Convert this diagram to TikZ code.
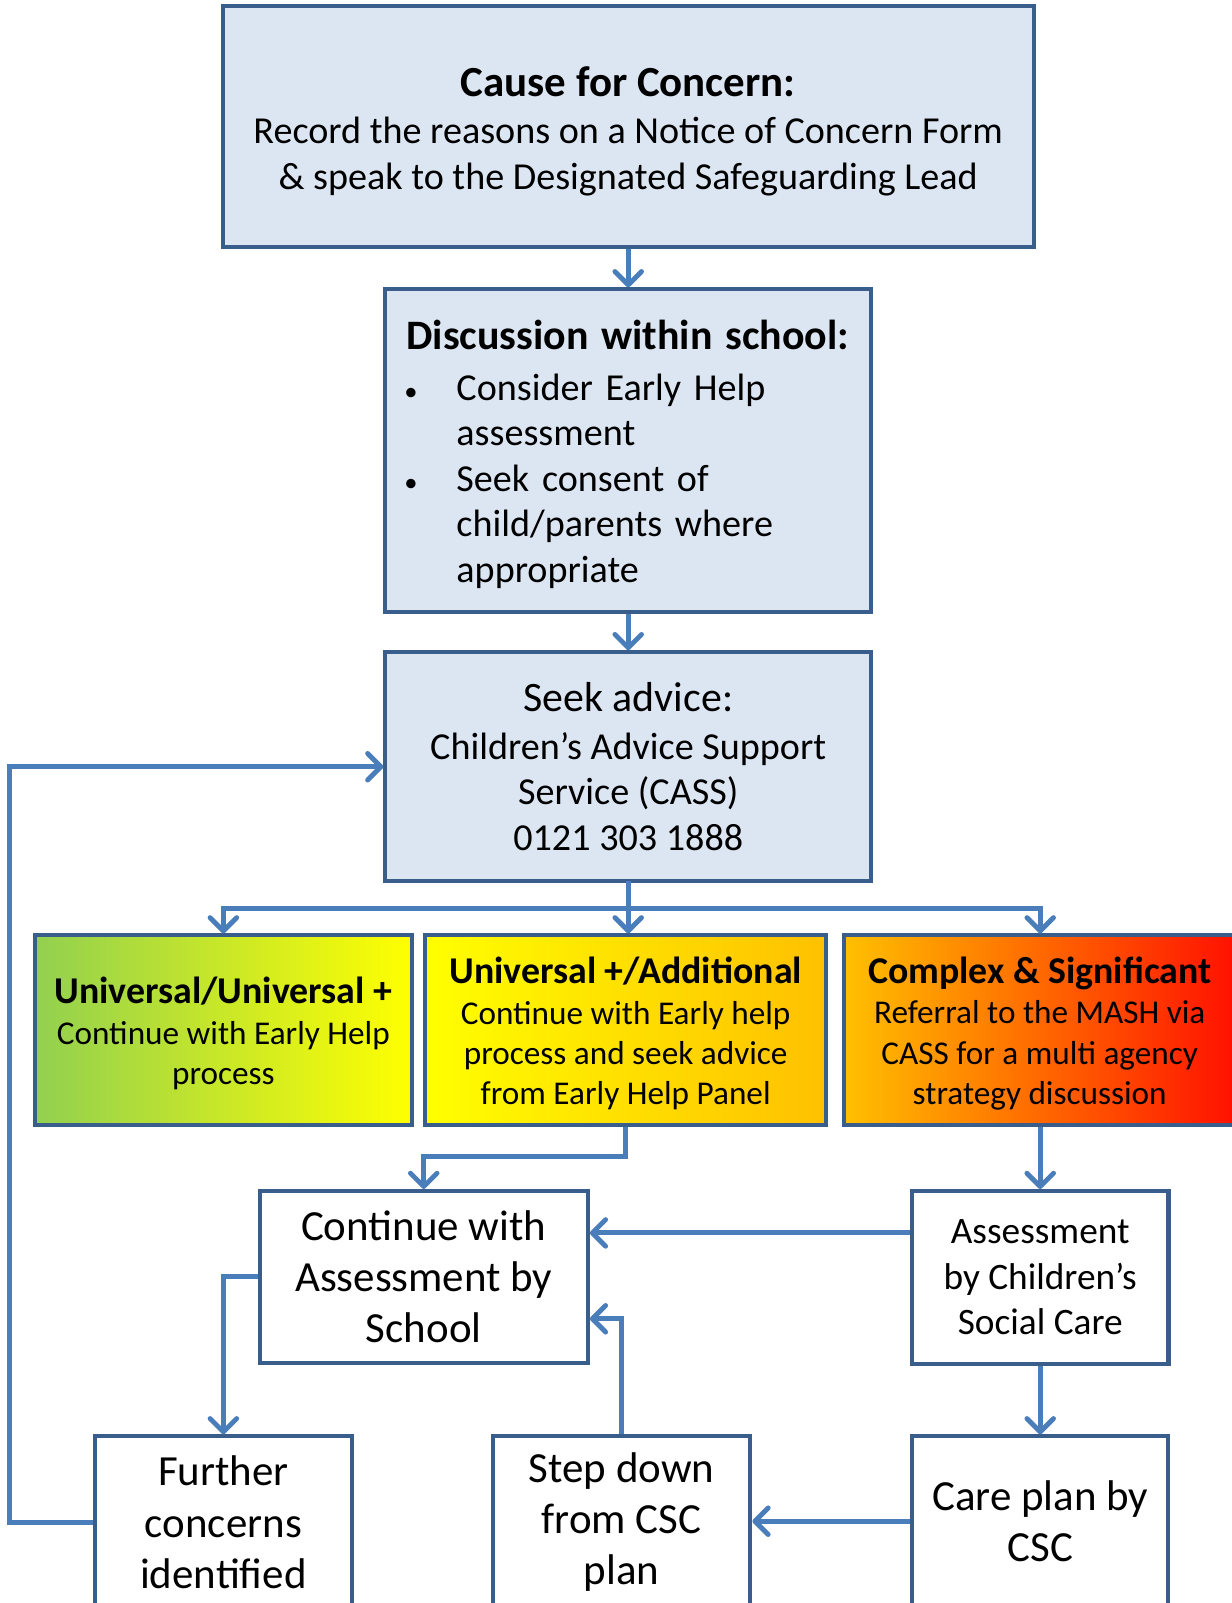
\documentclass[tikz,border=0pt]{standalone}
\usepackage{fontspec}
\setmainfont{Carlito}
\usetikzlibrary{arrows.meta,calc}
\definecolor{boxfill}{HTML}{DCE6F2}
\definecolor{boxline}{HTML}{3A5E8C}
\definecolor{conncol}{HTML}{4A7EBB}
\definecolor{cgreen}{HTML}{92D050}
\definecolor{cyellow}{HTML}{FFFF00}
\definecolor{corange}{HTML}{FFC000}
\definecolor{cred}{HTML}{FF0000}
\begin{document}
\begin{tikzpicture}[x=1pt,y=-1pt,
  box/.style={draw=boxline, line width=4pt, rectangle, inner sep=0pt, align=center},
  bluebox/.style={box, fill=boxfill, font=\fontsize{37.3}{44.5}\selectfont},
  whitebox/.style={box, fill=white},
  levelbox/.style={box, minimum height=185pt},
  leveltxt/.style={align=center, inner sep=0pt, font=\fontsize{32.5}{39.5}\selectfont},
  bigtxt/.style={align=center, inner sep=0pt, font=\fontsize{42}{50}\selectfont},
  conn/.style={draw=conncol, line width=4.8pt, -{Straight Barb[length=13pt,width=26pt,round]}},
  plain/.style={draw=conncol, line width=4.8pt, line cap=rect}]
\useasboundingbox (0,0) rectangle (1205,1568);
\clip (0,0) rectangle (1205,1568);
\fill[white] (0,0) rectangle (1205,1568);

% top box
\node[bluebox, minimum width=793pt, minimum height=236pt] (b1) at (614.5,124)
  {{\fontsize{42}{48}\selectfont\bfseries\rule{0pt}{38pt}Cause for Concern:}\\[2pt]
   Record the reasons on a Notice of Concern Form\\
   \& speak to the Designated Safeguarding Lead};

% discussion box
\node[bluebox, minimum width=475pt, minimum height=316pt, text width=434pt, align=left] (b2) at (614.5,441)
  {{\fontsize{41}{48}\selectfont\bfseries\rule{0pt}{36pt}Discussion within school:}\\[5pt]
   \makebox[49pt][l]{\hspace{-2pt}{\fontsize{26}{26}\selectfont •}}Consider Early Help\\
   \hspace*{49pt}assessment\\
   \makebox[49pt][l]{\hspace{-2pt}{\fontsize{26}{26}\selectfont •}}Seek consent of\\
   \hspace*{49pt}child/parents where\\
   \hspace*{49pt}appropriate};

% seek advice box
\node[bluebox, minimum width=475pt, minimum height=224pt] (b3) at (614.5,750)
  {{\fontsize{41}{48}\selectfont Seek advice:}\\[2pt]
   Children’s Advice Support\\
   Service (CASS)\\
   0121 303 1888};

% level boxes
\node[levelbox, minimum width=369pt, left color=cgreen, right color=cyellow] (cA) at (218.5,1007.5) {};
\node[leveltxt] (cAt) at (218.5,1011)
  {{\bfseries\fontsize{37}{42}\selectfont Universal/Universal +}\\
   Continue with Early Help\\ process};
\node[levelbox, minimum width=392pt, left color=cyellow, right color=corange] (cB) at (612,1007.5) {};
\node[leveltxt] (cBt) at (612,1011)
  {{\bfseries\fontsize{37}{42}\selectfont Universal +/Additional}\\
   Continue with Early help\\ process and seek advice\\ from Early Help Panel};
\node[levelbox, minimum width=419pt, left color=corange, right color=cred] (cC) at (1035.5,1007.5) {};
\node[leveltxt] (cCt) at (1017,1011)
  {{\bfseries\fontsize{37}{42}\selectfont Complex \& Significant}\\
   Referral to the MASH via\\ CASS for a multi agency\\ strategy discussion};

% lower boxes
\node[whitebox, minimum width=321pt, minimum height=168pt, font=\fontsize{42}{50}\selectfont] (dD) at (414.5,1249)
  {Continue with\\ Assessment by\\ School};
\node[whitebox, minimum width=251pt, minimum height=169pt, font=\fontsize{36.5}{44.5}\selectfont] (eE) at (1017.5,1249.5)
  {Assessment\\ by Children’s\\ Social Care};

\node[whitebox, anchor=north, minimum width=251pt, minimum height=300pt] (hH) at (218.5,1403) {};
\node[bigtxt] (hT) at (218.5,1489) {Further\\ concerns\\ identified};
\node[whitebox, anchor=north, minimum width=252pt, minimum height=300pt] (gG) at (608,1403) {};
\node[bigtxt] (gT) at (608,1489) {Step down\\ from CSC\\ plan};
\node[whitebox, anchor=north, minimum width=250pt, minimum height=300pt] (fF) at (1017.5,1403) {};
\node[bigtxt, font=\fontsize{42}{49}\selectfont] (fT) at (1017.5,1488) {Care plan by\\ CSC};

% connectors
\draw[conn] (b1) -- (b2);
\draw[conn] (b2) -- (b3);
\coordinate (jn) at (614.5,889);
\draw[plain] (b3.south) -- (jn);
\draw[plain] (cA.north |- jn) -- (eE.north |- jn);
\draw[conn] (cA.north |- jn) -- (cA.north);
\draw[conn] (jn) -- (jn |- cB.north);
\draw[conn] (eE.north |- jn) -- (eE.north |- cC.north);

\draw[conn] (cB.south) |- ($(dD.north)+(0,-32)$) -- (dD.north);
\draw[conn] (eE.north |- cC.south) -- (eE.north);
\coordinate (ed) at (892,1206);
\draw[conn] (eE.west |- ed) -- (dD.east |- ed);
\draw[conn] (eE) -- (fF);
\draw[conn] (fF.west |- fT) -- (gG.east |- fT);
\coordinate (gd) at (608,1290);
\draw[conn] (gG.north) |- (dD.east |- gd);
\draw[conn] (dD.west) -| (hH.north);
\coordinate (lp) at (9,750);
\draw[conn] (hH.west |- hT) -| (lp) -- (b3.west);
\end{tikzpicture}
\end{document}
